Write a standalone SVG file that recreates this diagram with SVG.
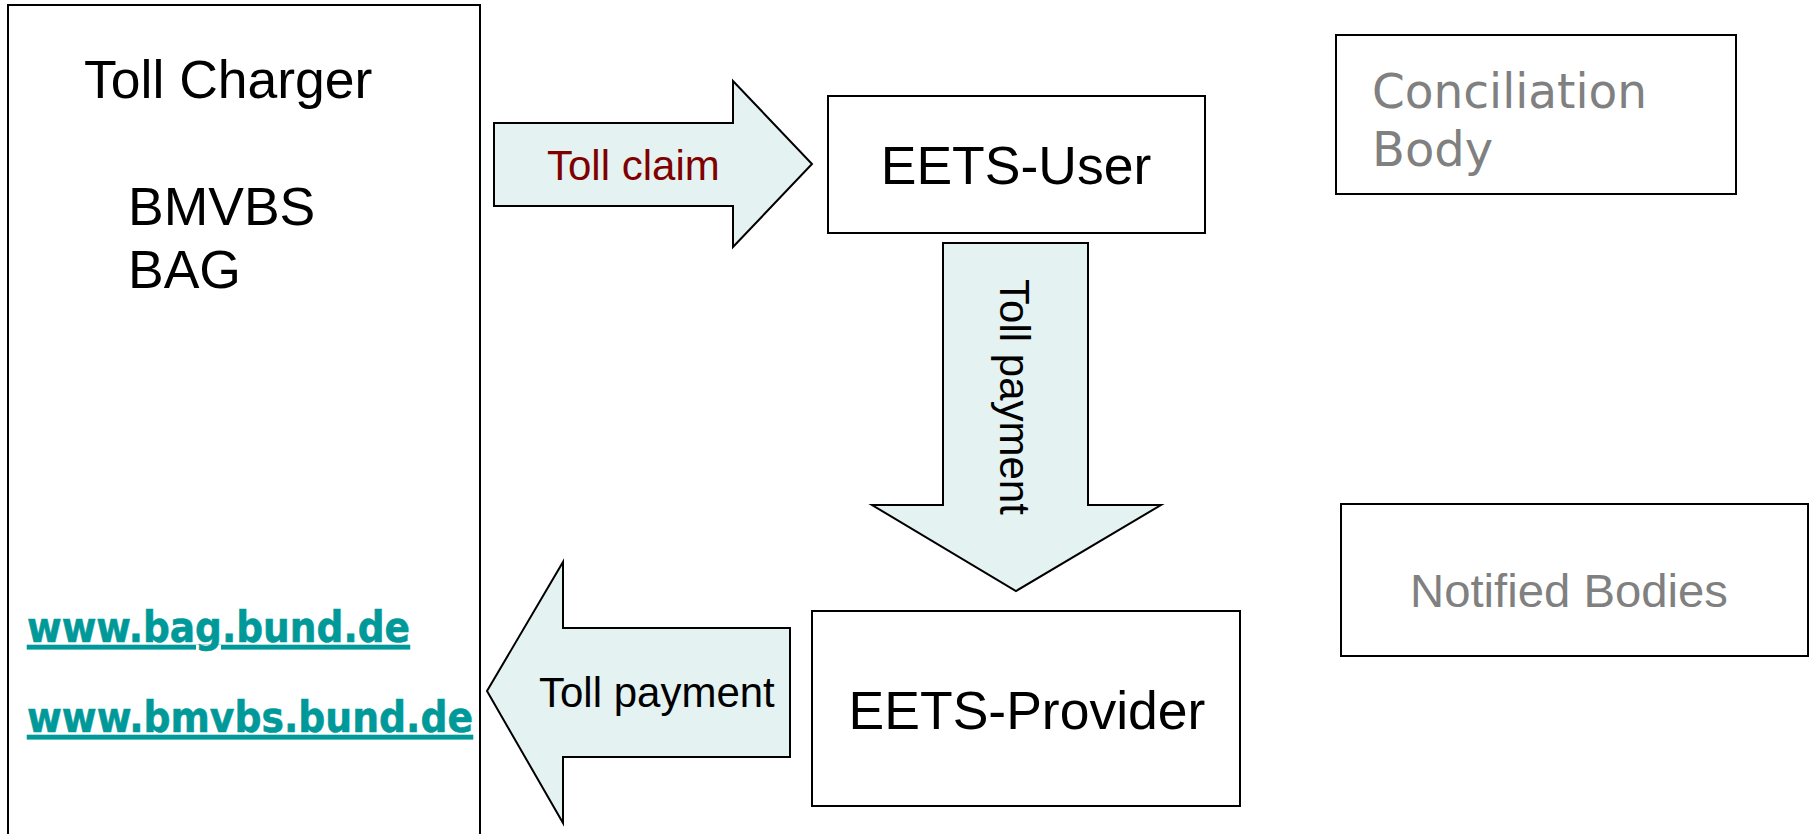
<svg xmlns="http://www.w3.org/2000/svg" width="1810" height="834" viewBox="0 0 1810 834">
<style>
.box{fill:#ffffff;stroke:#000000;stroke-width:2}
.arrow{fill:#e4f2f2;stroke:#000000;stroke-width:2;stroke-linejoin:miter}
.t{font-family:"Liberation Sans",Arial,sans-serif;fill:#000000}
.big{font-size:53.5px}
.lbl{font-size:42px}
.gray{fill:#808080}
.link{font-family:"DejaVu Sans",Verdana,sans-serif;font-weight:bold;font-size:42px;fill:#009999;stroke:#009999;stroke-width:0.6;text-decoration:underline}
</style>
<rect width="1810" height="834" fill="#ffffff"/>
<g id="toll-charger">
<rect class="box" x="8" y="5" width="472" height="840"/>
<text class="t big" x="84" y="98">Toll Charger</text>
<text class="t big" x="128" y="225">BMVBS</text>
<text class="t big" x="128" y="288">BAG</text>
<text class="link" x="27" y="642" textLength="383" lengthAdjust="spacingAndGlyphs">www.bag.bund.de</text>
<text class="link" x="27" y="732" textLength="446" lengthAdjust="spacingAndGlyphs">www.bmvbs.bund.de</text>
</g>
<g id="eets-user">
<rect class="box" x="828" y="96" width="377" height="137"/>
<text class="t big" x="1016" y="184" text-anchor="middle">EETS-User</text>
</g>
<g id="eets-provider">
<rect class="box" x="812" y="611" width="428" height="195"/>
<text class="t big" x="1027" y="729" text-anchor="middle">EETS-Provider</text>
</g>
<g id="conciliation-body">
<rect class="box" x="1336" y="35" width="400" height="159" stroke-width="2.5"/>
<text class="t gray" style="font-family:'DejaVu Sans',Verdana,sans-serif;font-size:48px" x="1372" y="108" textLength="275" lengthAdjust="spacingAndGlyphs">Conciliation</text>
<text class="t gray" style="font-family:'DejaVu Sans',Verdana,sans-serif;font-size:48px" x="1372" y="166">Body</text>
</g>
<g id="notified-bodies">
<rect class="box" x="1341" y="504" width="467" height="152"/>
<text class="t gray" style="font-size:47px" x="1410" y="607" textLength="318" lengthAdjust="spacingAndGlyphs">Notified Bodies</text>
</g>
<g id="connectors">
<g id="toll-claim">
<polygon class="arrow" points="494,123 733,123 733,81 812,164 733,247 733,206 494,206"/>
<text class="t lbl" x="547" y="180" style="fill:#800000">Toll claim</text>
</g>
<g id="toll-payment-down">
<polygon class="arrow" points="943,243 1088,243 1088,505 1161,505 1016,591 872,505 943,505"/>
<text class="t lbl" transform="translate(1000,397) rotate(90)" text-anchor="middle">Toll payment</text>
</g>
<g id="toll-payment-left">
<polygon class="arrow" points="790,628 790,757 563,757 563,823 487,691 563,562 563,628"/>
<text class="t lbl" x="539" y="707">Toll payment</text>
</g>
</g>
</svg>
